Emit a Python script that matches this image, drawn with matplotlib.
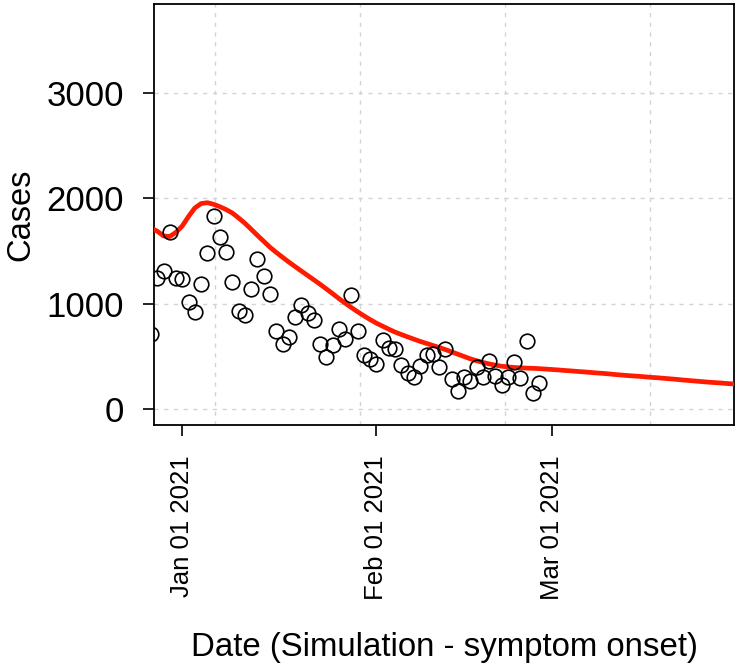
import numpy as np
import pandas as pd
import matplotlib
matplotlib.use("Agg")
import matplotlib.pyplot as plt
import matplotlib.dates as mdates

# Observed cases (daily, from 2020-12-27)
obs_start = "2020-12-27"
obs_cases = [716, 1246, 1313, 1680, 1244, 1237, 1016, 921, 1187, 1481,
             1834, 1632, 1496, 1206, 936, 896, 1145, 1424, 1265, 1095,
             747, 621, 690, 880, 990, 918, 848, 621, 495, 611,
             760, 670, 1085, 747, 517, 476, 431, 661, 580, 569,
             422, 343, 311, 412, 517, 526, 400, 571, 286, 178,
             305, 273, 406, 305, 464, 318, 232, 311, 453, 296,
             652, 154, 248]

# Simulated curve (daily, from 2020-12-27)
sim_start = "2020-12-27"
sim_cases = [1720, 1690, 1645, 1640, 1680, 1740, 1830, 1910, 1952, 1960,
             1945, 1922, 1895, 1862, 1815, 1765, 1708, 1650, 1594, 1538,
             1489, 1443, 1398, 1355, 1313, 1271, 1229, 1187, 1143, 1098,
             1052, 1008, 966, 926, 888, 852, 818, 789, 760, 733,
             710, 688, 666, 645, 626, 607, 588, 568, 546, 524,
             502, 480, 462, 446, 432, 420, 410, 403, 398, 395,
             392, 390, 387, 383, 379, 375, 370, 366, 361, 357,
             352, 347, 343, 338, 332, 327, 322, 318, 314, 309,
             304, 300, 295, 290, 285, 279, 274, 269, 264, 259,
             255, 251, 246, 242, 238]

x_ticks = ["2021-01-01", "2021-02-01", "2021-03-01"]
x_tick_labels = ["Jan 01 2021", "Feb 01 2021", "Mar 01 2021"]
y_ticks = [0, 1000, 2000, 3000]

obs_dates = pd.date_range(obs_start, periods=len(obs_cases), freq="D")
sim_dates = pd.date_range(sim_start, periods=len(sim_cases), freq="D")

plt.rcParams['font.family'] = ['Liberation Sans', 'DejaVu Sans']

fig = plt.figure(figsize=(7.43, 6.70), dpi=100)
ax = fig.add_axes([0.2077, 0.3657, 0.7802, 0.6279])

ref = pd.Timestamp("2021-01-01")
x0 = ref - pd.Timedelta(days=4.47)
x1 = ref + pd.Timedelta(days=88.1)
ax.set_xlim(x0, x1)
ax.set_ylim(-147, 3841)

# grid
grid_col = "#d3d3d3"
for k in range(4):
    gx = ref + pd.Timedelta(days=5.22 + 23.148 * k)
    ax.axvline(gx, color=grid_col, lw=1.0, ls=(0, (3, 4)), zorder=0)
for yv in y_ticks:
    ax.axhline(yv, color=grid_col, lw=1.0, ls=(0, (3, 4)), zorder=0)

ax.plot(sim_dates, sim_cases, color="#ff1a00", lw=3.4, zorder=3, solid_capstyle="butt")
ax.plot(obs_dates, obs_cases, ls="none", marker="o", ms=10.5, mfc="none",
        mec="black", mew=1.2, zorder=4)

ax.set_xticks(pd.to_datetime(x_ticks))
ax.set_xticklabels(x_tick_labels, rotation=90, fontsize=18.5)
ax.set_yticks(y_ticks)
ax.set_yticklabels([str(v) for v in y_ticks], fontsize=25)
ax.tick_params(axis="both", direction="out", length=8, width=1.2, color="black")
ax.tick_params(axis="x", pad=14)
ax.tick_params(axis="y", pad=14)

for s in ax.spines.values():
    s.set_linewidth(1.3)
    s.set_color("black")

ax.set_xlabel("Date (Simulation - symptom onset)", fontsize=23.8, labelpad=23)
ax.set_ylabel("Cases", fontsize=23.5, labelpad=7)

fig.savefig("out.png", dpi=100)
